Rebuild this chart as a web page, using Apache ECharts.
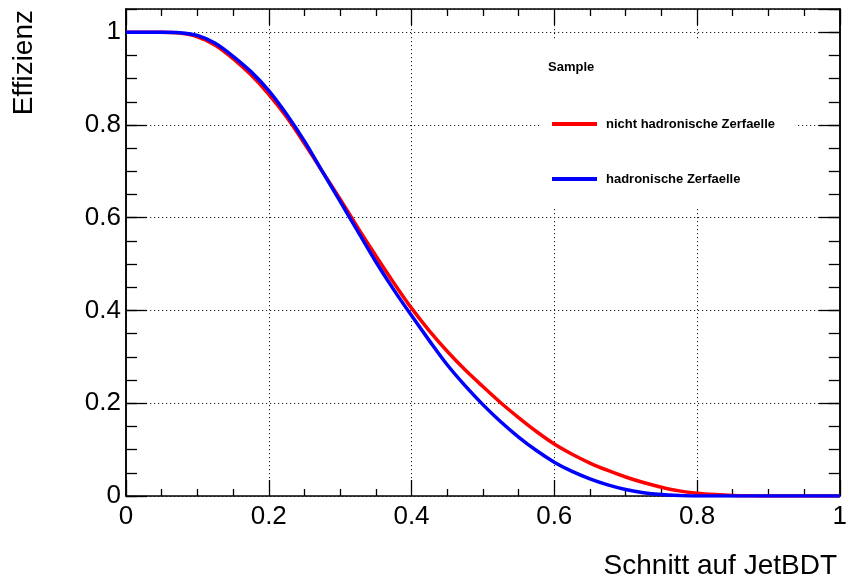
<!DOCTYPE html>
<html>
<head>
<meta charset="utf-8">
<script src="https://cdn.jsdelivr.net/npm/echarts@6/dist/echarts.min.js"></script>
<style>html,body{margin:0;padding:0;background:#fff}#c{width:850px;height:586px}</style>
</head>
<body>
<div id="c"></div>
<script>
const cutValues = [0, 0.025, 0.05, 0.075, 0.1, 0.125, 0.15, 0.175, 0.2, 0.225, 0.25, 0.275, 0.3, 0.325, 0.35, 0.375, 0.4, 0.425, 0.45, 0.475, 0.5, 0.525, 0.55, 0.575, 0.6, 0.625, 0.65, 0.675, 0.7, 0.725, 0.75, 0.775, 0.8, 0.825, 0.85, 0.875, 0.9, 0.925, 0.95, 0.975, 1];
const nichtHadronisch = [1, 1, 1, 0.998, 0.99, 0.972, 0.943, 0.908, 0.866, 0.817, 0.76, 0.70, 0.64, 0.578, 0.518, 0.46, 0.405, 0.356, 0.312, 0.272, 0.236, 0.201, 0.169, 0.139, 0.112, 0.09, 0.071, 0.055, 0.041, 0.029, 0.019, 0.011, 0.006, 0.003, 0.001, 0.0003, 0, 0, 0, 0, 0];
const hadronisch = [1, 1, 1, 0.999, 0.993, 0.976, 0.948, 0.915, 0.874, 0.823, 0.765, 0.70, 0.635, 0.57, 0.505, 0.445, 0.389, 0.335, 0.283, 0.238, 0.197, 0.16, 0.127, 0.098, 0.073, 0.053, 0.037, 0.024, 0.014, 0.007, 0.003, 0.001, 0, 0, 0, 0, 0, 0, 0, 0, 0];
const seriesNames = ['nicht hadronische Zerfaelle', 'hadronische Zerfaelle'];
const legendTitle = 'Sample';
const xTitle = 'Schnitt auf JetBDT';
const yTitle = 'Effizienz';

const FONT = '"Liberation Sans", Arial, Helvetica, sans-serif';
const pairs = arr => cutValues.map((x, i) => [x, arr[i]]);
const frame = { show: true, onZero: false, lineStyle: { color: '#000', width: 1.5 } };
const dotted = { show: true, lineStyle: { color: '#222', width: 1, type: [1.2, 2.8] } };

function xAx(pos, main) {
  return {
    type: 'value', position: pos, min: 0, max: 1, interval: 0.2,
    axisLine: frame,
    axisTick: { show: true, inside: true, length: 16, lineStyle: { color: '#000', width: 1.3 } },
    minorTick: { show: true, splitNumber: 4, length: 7, lineStyle: { color: '#000', width: 1.3 } },
    splitLine: main ? dotted : { show: false },
    axisLabel: main ? { show: true, fontSize: 26, color: '#000', fontFamily: FONT, margin: 8 } : { show: false }
  };
}
function yAx(pos, main, interval, len) {
  return {
    type: 'value', position: pos, min: 0, max: 1.05, interval: interval,
    axisLine: frame,
    axisTick: { show: true, inside: true, length: len, lineStyle: { color: '#000', width: 1.3 } },
    splitLine: main ? dotted : { show: false },
    axisLabel: main ? { show: true, showMaxLabel: false, fontSize: 26, color: '#000', fontFamily: FONT, margin: 5 } : { show: false }
  };
}

const chart = echarts.init(document.getElementById('c'), null, { renderer: 'canvas' });
chart.setOption({
  backgroundColor: '#fff',
  animation: false,
  grid: { left: 126, right: 9, top: 9, bottom: 90, containLabel: false },
  xAxis: [xAx('bottom', true), xAx('top', false)],
  yAxis: [
    yAx('left', true, 0.2, 21),
    yAx('left', false, 0.05, 11),
    yAx('right', false, 0.2, 21),
    yAx('right', false, 0.05, 11)
  ],
  legend: {
    show: true,
    orient: 'vertical',
    left: 552, top: 117,
    padding: 0,
    itemWidth: 45, itemHeight: 4, itemGap: 41,
    icon: 'rect',
    data: seriesNames,
    textStyle: { fontSize: 13, fontWeight: 'bold', color: '#000', fontFamily: FONT, lineHeight: 14, padding: [0, 0, 0, 4] },
    z: 10
  },
  graphic: [
    { type: 'rect', z: 5, shape: { x: 540, y: 40, width: 257, height: 167 }, style: { fill: '#fff' } },
    { type: 'text', z: 11, x: 548, y: 67, style: { text: legendTitle, font: 'bold 13px ' + FONT, fill: '#000', textVerticalAlign: 'middle' } },
    { type: 'text', z: 11, x: 837, y: 566, style: { text: xTitle, font: '28px ' + FONT, fill: '#000', textAlign: 'right', textVerticalAlign: 'middle' } },
    { type: 'text', z: 11, x: 24, y: 10, rotation: Math.PI / 2, style: { text: yTitle, font: '28px ' + FONT, fill: '#000', textAlign: 'right', textVerticalAlign: 'middle' } }
  ],
  series: [
    { name: seriesNames[0], type: 'line', data: pairs(nichtHadronisch), xAxisIndex: 0, yAxisIndex: 0, showSymbol: false, smooth: 0.3, lineStyle: { color: '#ff0000', width: 3.5 }, itemStyle: { color: '#ff0000' }, z: 3 },
    { name: seriesNames[1], type: 'line', data: pairs(hadronisch), xAxisIndex: 0, yAxisIndex: 0, showSymbol: false, smooth: 0.3, lineStyle: { color: '#0000ff', width: 3.5 }, itemStyle: { color: '#0000ff' }, z: 4 }
  ]
});
</script>
</body>
</html>
